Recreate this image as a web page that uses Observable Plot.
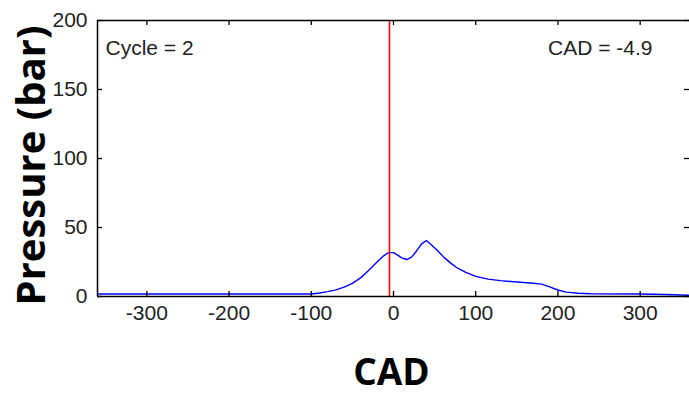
<!DOCTYPE html>
<html><head><meta charset="utf-8">
<script src="https://cdn.jsdelivr.net/npm/d3@7"></script>
<script src="https://cdn.jsdelivr.net/npm/@observablehq/plot@0.6"></script>
<style>body{margin:0;background:#fff;overflow:hidden}</style>
</head><body><div id="chart"></div>
<script>
const cad = [-360,-100,-90,-80,-70,-60,-50,-40,-30,-20,-12,-6,0,5,10,16,22,28,34,40,46,54,62,70,78,88,100,115,130,150,170,180,190,200,210,225,240,300,330,360];
const pressure = [1.8,1.8,2.5,3.5,4.8,6.8,9.5,13.5,19,25,29.5,31.8,31.8,30,28,26.8,28.5,33,38,40.6,37.5,33,28,24,20.5,17.5,14.6,12.6,11.5,10.5,9.6,9,7,4.7,3.2,2.4,2,1.8,1.4,0.9];
const xTicks = [-300,-200,-100,0,100,200,300];
const yTicks = [0,50,100,150,200];
const xDomain = [-360,360];
const yDomain = [0,200];
const currentCad = -4.9;
const cycle = 2;
const xTitle = "CAD";
const yTitle = "Pressure (bar)";

const data = cad.map((c,i)=>({cad:c, p:pressure[i]}));
const W = 689, H = 394, mL = 97, mR = 0, mT = 20, mB = 98;
const pw = W - mL - mR, ph = H - mT - mB;
const tl = 5;
const tickFont = "Liberation Sans, Arial, sans-serif";
const titleFont = "'Open Sans', sans-serif";
const fmt = d => String(d);

const chart = Plot.plot({
  width: W, height: H,
  marginLeft: mL, marginRight: mR, marginTop: mT, marginBottom: mB,
  x: {domain: xDomain},
  y: {domain: yDomain},
  style: {background: "#fff"},
  marks: [
    Plot.line(data, {x:"cad", y:"p", stroke:"#0000ff", strokeWidth:1.4}),
    Plot.ruleX([currentCad], {stroke:"#ff0000", strokeWidth:1.6}),
    // box
    Plot.ruleY([yDomain[0]], {stroke:"#000", strokeWidth:1.5}),
    Plot.ruleY([yDomain[1]], {stroke:"#000", strokeWidth:1.5}),
    Plot.ruleX([xDomain[0]], {stroke:"#000", strokeWidth:1.5}),
    // inward ticks
    Plot.tickX(xTicks, {x: d=>d, insetTop: ph - tl, stroke:"#000", strokeWidth:1.3}),
    Plot.tickX(xTicks, {x: d=>d, insetBottom: ph - tl, stroke:"#000", strokeWidth:1.3}),
    Plot.tickY(yTicks, {y: d=>d, insetRight: pw - tl, stroke:"#000", strokeWidth:1.3}),
    Plot.tickY(yTicks, {y: d=>d, insetLeft: pw - tl, stroke:"#000", strokeWidth:1.3}),
    Plot.axisX({ticks: xTicks, tickFormat: fmt, tickSize: 0, tickPadding: 9, label: null, fontSize: 21, fontFamily: tickFont, fill:"#222"}),
    Plot.axisY({ticks: yTicks, tickFormat: fmt, tickSize: 0, tickPadding: 10, label: null, fontSize: 21, fontFamily: tickFont, fill:"#222"}),
    Plot.text([`Cycle = ${cycle}`], {frameAnchor:"top-left", dx: 8, dy: 34, lineAnchor:"bottom", textAnchor:"start", fontSize: 21, fontFamily: tickFont, fill:"#222"}),
    Plot.text([`CAD = ${currentCad}`], {frameAnchor:"top-right", dx: -37, dy: 34, lineAnchor:"bottom", textAnchor:"end", fontSize: 21, fontFamily: tickFont, fill:"#222"}),
    Plot.text([xTitle], {frameAnchor:"bottom", dx: -2, dy: 88, lineAnchor:"bottom", textAnchor:"middle", fontSize: 37, fontWeight:"bold", fontFamily: titleFont, fill:"#000"}),
    Plot.text([yTitle], {frameAnchor:"left", dx: -53, dy: 7, rotate: -90, lineAnchor:"bottom", textAnchor:"middle", fontSize: 40, fontWeight:"bold", fontFamily: titleFont, fill:"#000"})
  ]
});
document.getElementById("chart").appendChild(chart);
</script>
</body></html>
